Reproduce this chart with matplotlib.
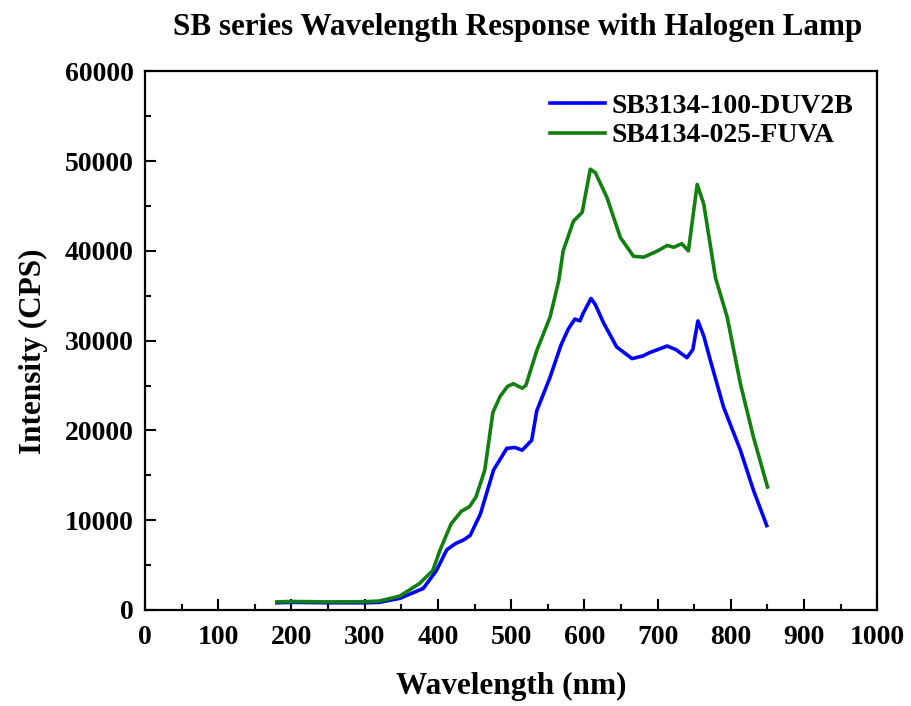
import numpy as np
import matplotlib
matplotlib.use("Agg")
import matplotlib.pyplot as plt
from matplotlib.ticker import MultipleLocator

plt.rcParams['font.family'] = ['Liberation Serif', 'DejaVu Serif']
plt.rcParams['font.weight'] = 'bold'

# SB3134-100-DUV2B (blue)
wl_blue = [180, 200, 250, 300, 320, 348, 380, 398, 412, 424, 435, 444, 458, 476,
           494, 505, 515, 528, 535, 553, 568, 578, 587, 594, 598, 609, 615, 626,
           644, 665, 680, 690, 700, 713, 725, 740, 748, 755, 763, 772, 790, 813,
           831, 849]
int_blue = [800, 850, 800, 800, 850, 1300, 2400, 4400, 6700, 7400, 7800, 8300,
            10700, 15600, 18000, 18100, 17800, 18900, 22200, 25900, 29500, 31300,
            32400, 32200, 33000, 34700, 34000, 32000, 29300, 28000, 28300, 28700,
            29000, 29400, 29000, 28100, 29000, 32200, 30500, 27800, 22600, 17800,
            13300, 9400]

# SB4134-025-FUVA (green)
wl_green = [180, 200, 250, 300, 320, 348, 375, 393, 403, 418, 432, 443, 452, 464,
            475, 485, 495, 503, 515, 520, 535, 553, 565, 571, 585, 597, 608, 615,
            631, 649, 667, 681, 700, 713, 722, 733, 742, 754, 763, 779, 795, 813,
            831, 850]
int_green = [900, 950, 900, 920, 1000, 1550, 2960, 4400, 6700, 9600, 11000, 11500,
             12600, 15600, 22000, 23800, 24900, 25200, 24700, 25000, 28900, 32600,
             36700, 40000, 43300, 44300, 49100, 48700, 45900, 41500, 39400, 39300,
             40000, 40600, 40400, 40800, 40000, 47400, 45200, 37000, 32600, 25200,
             19200, 13700]

fig = plt.figure(figsize=(9.12, 7.06), dpi=100)
ax = fig.add_axes([0.159, 0.136, 0.803, 0.763])

ax.plot(wl_blue, int_blue, color='#0000ff', lw=2.6, label='SB3134-100-DUV2B')
ax.plot(wl_green, int_green, color='#118011', lw=2.6, label='SB4134-025-FUVA')

ax.set_xlim(0, 1000)
ax.set_ylim(0, 60000)
ax.xaxis.set_major_locator(MultipleLocator(100))
ax.xaxis.set_minor_locator(MultipleLocator(50))
ax.yaxis.set_major_locator(MultipleLocator(10000))
ax.yaxis.set_minor_locator(MultipleLocator(5000))
ax.tick_params(which='both', direction='in', width=1.5, labelsize=20)
ax.tick_params(axis='x', pad=11)
ax.tick_params(axis='y', pad=8)
ax.tick_params(which='major', length=8)
ax.tick_params(which='minor', length=4)
ax.tick_params(top=False, right=False, which='both')
for s in ax.spines.values():
    s.set_linewidth(1.6)

ax.set_xlabel('Wavelength (nm)', fontsize=22.5, fontweight='bold')
ax.xaxis.set_label_coords(0.5, -0.115)
ax.set_ylabel('Intensity (CPS)', fontsize=22.5, fontweight='bold')
ax.yaxis.set_label_coords(-0.133, 0.48)
fig.suptitle('SB series Wavelength Response with Halogen Lamp', fontsize=22.4,
             fontweight='bold', x=0.568, y=0.982)

ax.legend(loc='upper right', bbox_to_anchor=(0.993, 0.995), frameon=False,
          fontsize=20, handlelength=2.0, handletextpad=0.2, borderaxespad=0.3,
          labelspacing=0.15)

fig.savefig('out.png', dpi=100)
